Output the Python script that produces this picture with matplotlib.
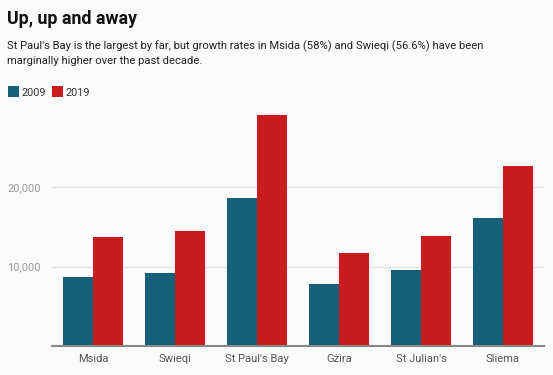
import matplotlib
matplotlib.use("Agg")
import matplotlib.pyplot as plt
import numpy as np

categories = ["Msida", "Swieqi", "St Paul's Bay", "Gżira", "St Julian's", "Sliema"]
values_2009 = [8650, 9230, 18680, 7810, 9530, 16120]
values_2019 = [13690, 14450, 29090, 11750, 13810, 22630]
series_labels = ["2009", "2019"]
yticks = [10000, 20000]
ytick_labels = ["10,000", "20,000"]

c2009 = "#17607a"
c2019 = "#c81c1e"
bg = "#fbfbfb"

plt.rcParams['font.family'] = ['Roboto', 'DejaVu Sans']

fig = plt.figure(figsize=(5.53, 3.75), dpi=100, facecolor=bg)
ax = fig.add_axes([52/553, 1 - 346/375, 492/553, (346 - 107.8)/375], facecolor=bg)

x = np.arange(len(categories))
w = 30/82
ax.bar(x - w/2, values_2009, width=w, color=c2009, zorder=3)
ax.bar(x + w/2, values_2019, width=w, color=c2019, zorder=3)

ax.set_xlim(-0.5, len(categories) - 0.5)
ax.set_ylim(0, 30000)
ax.set_yticks(yticks)
ax.set_yticklabels(ytick_labels, color="#9a9a9a", fontsize=8)
ax.set_xticks(x)
ax.set_xticklabels(categories, color="#555555", fontsize=8)
ax.tick_params(axis='both', length=0)
ax.tick_params(axis='y', pad=8)
ax.tick_params(axis='x', pad=6)
ax.grid(axis='y', color="#e2e2e2", linewidth=1, zorder=0)
for s in ['top', 'right', 'left']:
    ax.spines[s].set_visible(False)
ax.spines['bottom'].set_color("#888888")
ax.spines['bottom'].set_linewidth(1.5)
ax.spines['bottom'].set_zorder(4)

fig.text(7/553, 1 - 24.5/375, "Up, up and away", fontsize=12.8, fontweight='bold',
         color="#111111", ha='left', va='baseline')
fig.text(7/553, 1 - 49.3/375,
         "St Paul's Bay is the largest by far, but growth rates in Msida (58%) and Swieqi (56.6%) have been",
         fontsize=8.15, color="#222222", ha='left', va='baseline')
fig.text(7/553, 1 - 64/375, "marginally higher over the past decade.",
         fontsize=8.15, color="#222222", ha='left', va='baseline')

# legend
from matplotlib.patches import Rectangle
fig.patches.append(Rectangle((7.5/553, 1 - 97/375), 11.5/553, 11.5/375, transform=fig.transFigure,
                             facecolor=c2009, edgecolor='none'))
fig.text(22/553, 1 - 95.5/375, series_labels[0], fontsize=7.8, color="#333333", ha='left', va='baseline')
fig.patches.append(Rectangle((51.5/553, 1 - 97/375), 11.5/553, 11.5/375, transform=fig.transFigure,
                             facecolor=c2019, edgecolor='none'))
fig.text(66/553, 1 - 95.5/375, series_labels[1], fontsize=7.8, color="#333333", ha='left', va='baseline')

fig.savefig("out.png", dpi=100, facecolor=bg)
